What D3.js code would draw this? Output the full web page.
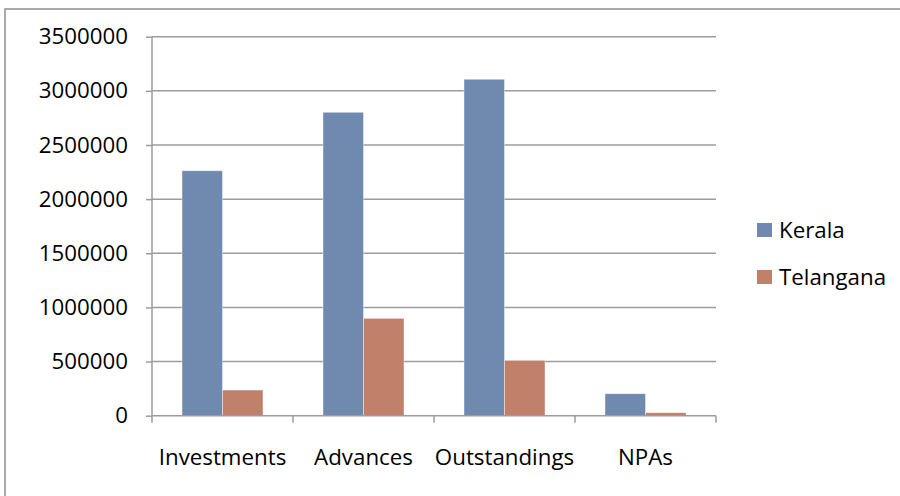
<!DOCTYPE html>
<html><head><meta charset="utf-8">
<script src="https://cdn.jsdelivr.net/npm/d3@7"></script>
<style>
body{margin:0;background:#fff;}
text{font-family:"Open Sans",sans-serif;fill:#000;}
</style></head>
<body><svg id="c" width="900" height="496"></svg>
<script>
const categories = ["Investments","Advances","Outstandings","NPAs"];
const seriesNames = ["Kerala","Telangana"];
const kerala = [2262000, 2802000, 3107000, 203000];
const telangana = [237000, 899000, 511000, 28000];
const yTicks = [0,500000,1000000,1500000,2000000,2500000,3000000,3500000];
const colors = ["#7089AF","#C0806A"];

const svg = d3.select("#c");
const fs = 22.3;
// outer frame
svg.append("rect").attr("x",5).attr("y",9).attr("width",900).attr("height",500)
  .attr("fill","none").attr("stroke","#8e8e8e").attr("stroke-width",1.5);

const L=152, R=716, T=36.7, B=415.7;
const x = d3.scaleBand().domain(categories).range([L,R]);
const y = d3.scaleLinear().domain([0,3500000]).range([B,T]);

// gridlines
svg.append("g").selectAll("line").data(yTicks.slice(1)).join("line")
  .attr("x1",L).attr("x2",R).attr("y1",d=>y(d)).attr("y2",d=>y(d))
  .attr("stroke","#9c9c9c").attr("stroke-width",1.5);

// bars
const data = categories.map((c,i)=>({c, vals:[kerala[i], telangana[i]]}));
const bw = 40.5;
const g = svg.append("g");
data.forEach(d=>{
  const cx = x(d.c)+x.bandwidth()/2;
  d.vals.forEach((v,j)=>{
    g.append("rect").attr("x", cx - bw + j*bw).attr("width", bw)
      .attr("y", y(v)).attr("height", y(0)-y(v))
      .attr("fill", colors[j]).attr("stroke","#ffffff").attr("stroke-opacity",0.5).attr("stroke-width",0.8);
  });
});

// y axis
const ya = svg.append("g").attr("transform",`translate(${L},0)`)
  .call(d3.axisLeft(y).tickValues(yTicks).tickFormat(d3.format("d")).tickSize(6).tickPadding(18));
ya.select(".domain").attr("stroke","#9c9c9c").attr("stroke-width",1.5).attr("d",`M-0,${B}V${T}`);
ya.selectAll(".tick line").attr("stroke","#9c9c9c").attr("stroke-width",1.5);
ya.selectAll(".tick text").attr("font-size",fs).attr("font-family","Open Sans").attr("fill","#000");

// x axis
const xa = svg.append("g").attr("transform",`translate(0,${B})`)
  .call(d3.axisBottom(x).tickSize(0).tickPadding(33));
xa.select(".domain").attr("stroke","#9c9c9c").attr("stroke-width",1.5).attr("d",`M${L},0H${R}`);
xa.selectAll(".tick text").attr("font-size",fs).attr("font-family","Open Sans").attr("fill","#000");
// category boundary ticks
const bounds = categories.map(c=>x(c)).concat([R]);
svg.append("g").selectAll("line").data(bounds).join("line")
  .attr("x1",d=>d).attr("x2",d=>d).attr("y1",B).attr("y2",B+7)
  .attr("stroke","#9c9c9c").attr("stroke-width",1.5);

// legend
const lg = svg.append("g");
seriesNames.forEach((s,i)=>{
  const yy = 223 + i*47;
  lg.append("rect").attr("x",757).attr("y",yy).attr("width",15).attr("height",14).attr("fill",colors[i]);
  lg.append("text").attr("x",779).attr("y",yy+7).attr("dy","0.35em").attr("font-size",fs).text(s);
});
</script></body></html>
